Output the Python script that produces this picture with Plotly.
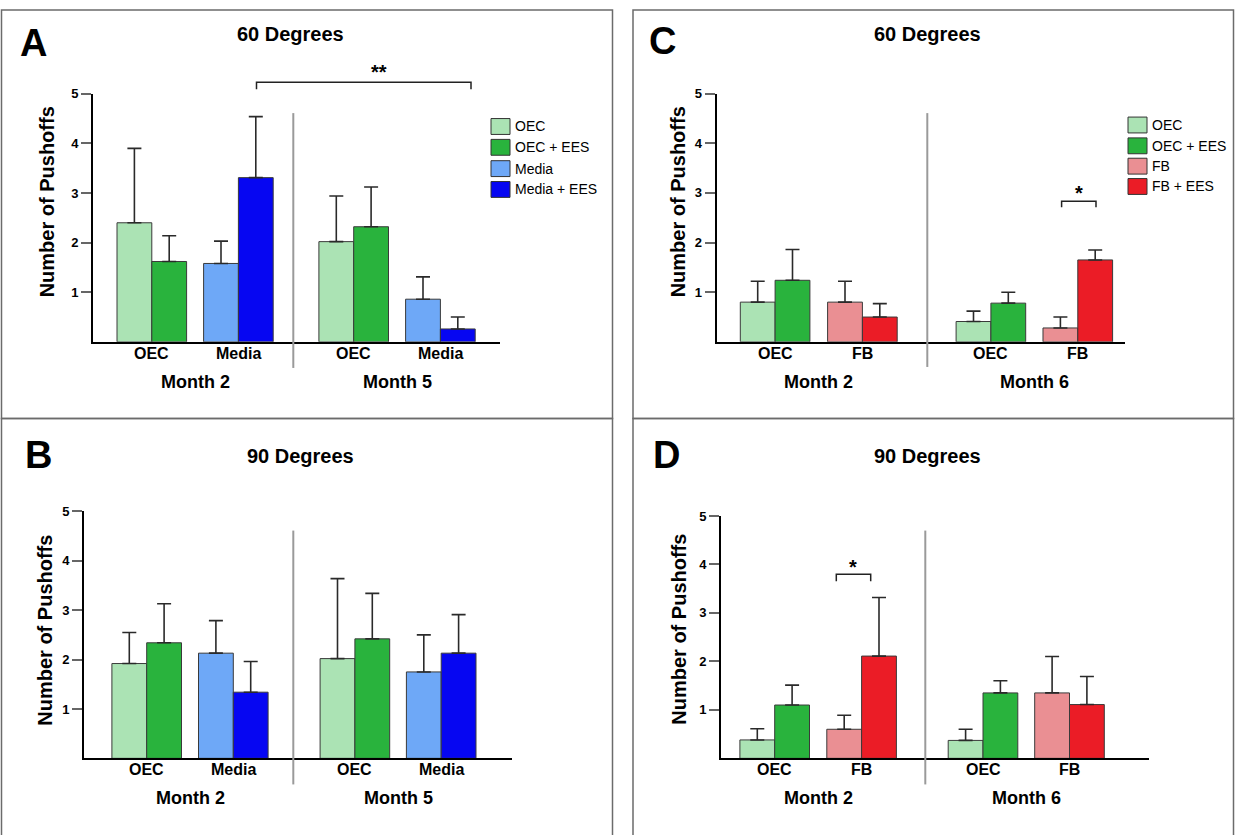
import plotly.graph_objects as go

W, H = 1235, 835
FONT = "Liberation Sans, Arial, sans-serif"

# ---------------- data ----------------
series_AB = ["OEC", "OEC + EES", "Media", "Media + EES"]
series_CD = ["OEC", "OEC + EES", "FB", "FB + EES"]
groups_AB = ["OEC", "Media"]
groups_CD = ["OEC", "FB"]
months_AB = ["Month 2", "Month 5"]
months_CD = ["Month 2", "Month 6"]
y_ticks = [1, 2, 3, 4, 5]

# Panel A (60 Degrees) values per series at [Month 2, Month 5], upper error
A_oec = [2.40, 2.02];        A_oec_err = [1.50, 0.92]
A_oec_ees = [1.62, 2.32];    A_oec_ees_err = [0.52, 0.80]
A_media = [1.58, 0.86];      A_media_err = [0.45, 0.45]
A_media_ees = [3.31, 0.26];  A_media_ees_err = [1.23, 0.24]

# Panel B (90 Degrees)
B_oec = [1.92, 2.02];        B_oec_err = [0.63, 1.62]
B_oec_ees = [2.34, 2.42];    B_oec_ees_err = [0.79, 0.92]
B_media = [2.13, 1.75];      B_media_err = [0.66, 0.75]
B_media_ees = [1.34, 2.13];  B_media_ees_err = [0.62, 0.78]

# Panel C (60 Degrees) at [Month 2, Month 6]
C_oec = [0.80, 0.41];        C_oec_err = [0.42, 0.21]
C_oec_ees = [1.24, 0.78];    C_oec_ees_err = [0.62, 0.22]
C_fb = [0.80, 0.28];         C_fb_err = [0.42, 0.22]
C_fb_ees = [0.50, 1.65];     C_fb_ees_err = [0.27, 0.20]

# Panel D (90 Degrees)
D_oec = [0.38, 0.37];        D_oec_err = [0.23, 0.23]
D_oec_ees = [1.10, 1.35];    D_oec_ees_err = [0.41, 0.25]
D_fb = [0.60, 1.35];         D_fb_err = [0.29, 0.75]
D_fb_ees = [2.11, 1.11];     D_fb_ees_err = [1.21, 0.58]

# ---------------- styles ----------------
COL_AB = ["#ABE3B4", "#29B33D", "#6EA8F7", "#0606F2"]
COL_CD = ["#ABE3B4", "#29B33D", "#EA8F93", "#EB1C26"]

# layout of each panel in page pixels
panels = [
    dict(key="A", letter="A", title="60 Degrees", L=93, R=500, y5=87.5, y0=337.7,
         c=[151.8, 238.4, 353.7, 440.4],
         series=series_AB, groups=groups_AB, months=months_AB, colors=COL_AB,
         vals=[A_oec, A_oec_ees, A_media, A_media_ees],
         errs=[A_oec_err, A_oec_ees_err, A_media_err, A_media_ees_err],
         letter_xy=(33, 36), title_xy=(290, 27), ytitle_xy=(47, 197),
         month_y=378, div=(293.3, 107, 364), box=(1.5, 3, 612.5, 415),
         legend=dict(x=491, rows=[120.5, 141.5, 163, 184])),
    dict(key="B", letter="B", title="90 Degrees", L=84, R=512, y5=508.7, y0=757.7,
         c=[146.7, 233.3, 354.9, 441.2],
         series=series_AB, groups=groups_AB, months=months_AB, colors=COL_AB,
         vals=[B_oec, B_oec_ees, B_media, B_media_ees],
         errs=[B_oec_err, B_oec_ees_err, B_media_err, B_media_ees_err],
         letter_xy=(38, 452), title_xy=(300, 453), ytitle_xy=(45, 628),
         month_y=798, div=(293.3, 528, 784), box=(1.5, 415, 612.5, 836),
         legend=None),
    dict(key="C", letter="C", title="60 Degrees", L=716.6, R=1125, y5=87.3, y0=337.7,
         c=[775.1, 862.4, 990.9, 1077.8],
         series=series_CD, groups=groups_CD, months=months_CD, colors=COL_CD,
         vals=[C_oec, C_oec_ees, C_fb, C_fb_ees],
         errs=[C_oec_err, C_oec_ees_err, C_fb_err, C_fb_ees_err],
         letter_xy=(662, 34), title_xy=(927, 27), ytitle_xy=(678, 197),
         month_y=378, div=(927.3, 107, 363), box=(633, 3, 1233.5, 415),
         legend=dict(x=1128, rows=[119, 140, 160.5, 181])),
    dict(key="D", letter="D", title="90 Degrees", L=721, R=1149, y5=513.3, y0=757.7,
         c=[774.7, 861.6, 983.0, 1069.5],
         series=series_CD, groups=groups_CD, months=months_CD, colors=COL_CD,
         vals=[D_oec, D_oec_ees, D_fb, D_fb_ees],
         errs=[D_oec_err, D_oec_ees_err, D_fb_err, D_fb_ees_err],
         letter_xy=(667, 452), title_xy=(927, 453), ytitle_xy=(679, 628),
         month_y=798, div=(925.3, 528, 784), box=(633, 415, 1233.5, 836),
         legend=None),
]

# significance brackets: (panel index, left px, right px, y top px, drop px, text, star xy)
brackets = [
    (0, 256.5, 471.0, 76, 7, "**", (379, 66)),
    (2, 1061.6, 1096.0, 196, 6, "*", (1078.6, 188)),
    (3, 836.3, 870.7, 572, 7, "*", (853.3, 565)),
]

def px(x):
    return x / W

def py(y):
    return 1 - y / H

fig = go.Figure()
shapes, annotations = [], []
layout = {}

BAR_PX = 34.8
for i, p in enumerate(panels):
    n = "" if i == 0 else str(i + 1)
    xa, ya = "x" + n, "y" + n
    s = p["c"][1] - p["c"][0]
    pos = [(c - p["c"][0]) / s for c in p["c"]]
    w = BAR_PX / s
    for k in range(4):
        grp = k // 2
        side = k % 2
        xs = [pos[grp], pos[grp + 2]]
        fig.add_trace(go.Bar(
            x=xs, y=p["vals"][k], name=p["series"][k], showlegend=False,
            width=w, offset=(-w if side == 0 else 0),
            marker=dict(color=p["colors"][k], line=dict(color="#3a3a3a", width=1)),
            error_y=dict(type="data", symmetric=False, array=p["errs"][k],
                         arrayminus=[0] * len(p["errs"][k]),
                         color="#2a2a2a", thickness=1.6, width=7),
            xaxis=xa, yaxis=ya, hoverinfo="skip",
        ))
    layout["xaxis" + n] = dict(
        domain=[px(p["L"]), px(p["R"])], anchor=ya,
        range=[(p["L"] - p["c"][0]) / s, (p["R"] - p["c"][0]) / s],
        showline=True, linecolor="black", linewidth=2, ticks="",
        showticklabels=False, showgrid=False, zeroline=False, fixedrange=True,
    )
    layout["yaxis" + n] = dict(
        domain=[py(p["y0"]), py(p["y5"])], anchor=xa, range=[0, 5],
        showline=True, linecolor="black", linewidth=2,
        ticks="outside", ticklen=10, tickwidth=1.5, tickcolor="#666",
        tickvals=y_ticks, ticktext=[str(t) for t in y_ticks],
        showgrid=False, zeroline=False,
        tickfont=dict(family=FONT, size=13, color="black", weight="bold"),
        fixedrange=True,
    )
    # box
    x0, y0, x1, y1 = p["box"]
    shapes.append(dict(type="rect", xref="paper", yref="paper",
                       x0=px(x0), x1=px(x1), y0=py(y1), y1=py(y0),
                       line=dict(color="#6b6b6b", width=1.5), layer="below"))
    # divider
    dx, dy0, dy1 = p["div"]
    shapes.append(dict(type="line", xref="paper", yref="paper",
                       x0=px(dx), x1=px(dx), y0=py(dy1), y1=py(dy0),
                       line=dict(color="#9a9a9a", width=2)))
    # letter, title, y title
    annotations.append(dict(text="<b>%s</b>" % p["letter"], x=px(p["letter_xy"][0]),
                            y=py(p["letter_xy"][1]), xref="paper", yref="paper",
                            showarrow=False, xanchor="center", yanchor="middle",
                            font=dict(family=FONT, size=38, color="black")))
    annotations.append(dict(text="<b>%s</b>" % p["title"], x=px(p["title_xy"][0]),
                            y=py(p["title_xy"][1]), xref="paper", yref="paper",
                            showarrow=False, xanchor="center", yanchor="middle",
                            font=dict(family=FONT, size=20, color="black")))
    annotations.append(dict(text="<b>Number of Pushoffs</b>", x=px(p["ytitle_xy"][0]),
                            y=py(p["ytitle_xy"][1]), xref="paper", yref="paper",
                            textangle=-90, showarrow=False, xanchor="center",
                            yanchor="middle",
                            font=dict(family=FONT, size=20, color="black")))
    # group labels (under axis) and month labels
    for m in range(2):
        for g in range(2):
            annotations.append(dict(text="<b>%s</b>" % p["groups"][g],
                                    x=pos[2 * m + g], xref=xa,
                                    y=py(p["y0"] + 11.5), yref="paper", showarrow=False,
                                    xanchor="center", yanchor="middle",
                                    font=dict(family=FONT, size=16, color="black")))
        annotations.append(dict(text="<b>%s</b>" % p["months"][m],
                                x=(pos[2 * m] + pos[2 * m + 1]) / 2, xref=xa,
                                y=py(p["month_y"]), yref="paper", showarrow=False,
                                xanchor="center", yanchor="middle",
                                font=dict(family=FONT, size=18, color="black")))
    # legend
    if p["legend"]:
        lx = p["legend"]["x"]
        for k, ry in enumerate(p["legend"]["rows"]):
            shapes.append(dict(type="rect", xref="paper", yref="paper",
                               x0=px(lx), x1=px(lx + 19), y0=py(ry + 8), y1=py(ry - 8),
                               fillcolor=p["colors"][k], line=dict(color="#333", width=1)))
            annotations.append(dict(text=p["series"][k], x=px(lx + 22), y=py(ry),
                                    xref="paper", yref="paper", showarrow=False,
                                    xanchor="left", yanchor="middle",
                                    font=dict(family=FONT, size=14, color="black")))

for (pi, xl, xr, ytop, drop, txt, sxy) in brackets:
    path = "M %f %f L %f %f L %f %f L %f %f" % (
        px(xl), py(ytop + drop), px(xl), py(ytop), px(xr), py(ytop), px(xr), py(ytop + drop))
    shapes.append(dict(type="path", xref="paper", yref="paper", path=path,
                       line=dict(color="#222", width=1.5)))
    annotations.append(dict(text="<b>%s</b>" % txt, x=px(sxy[0]), y=py(sxy[1]),
                            xref="paper", yref="paper", showarrow=False,
                            xanchor="center", yanchor="middle",
                            font=dict(family=FONT, size=20, color="black")))

fig.update_layout(
    width=W, height=H, margin=dict(l=0, r=0, t=0, b=0),
    paper_bgcolor="white", plot_bgcolor="rgba(0,0,0,0)",
    barmode="overlay", showlegend=False,
    shapes=shapes, annotations=annotations,
    font=dict(family=FONT, color="black"),
    **layout,
)

fig.write_html("out.html", config={"displayModeBar": False})
